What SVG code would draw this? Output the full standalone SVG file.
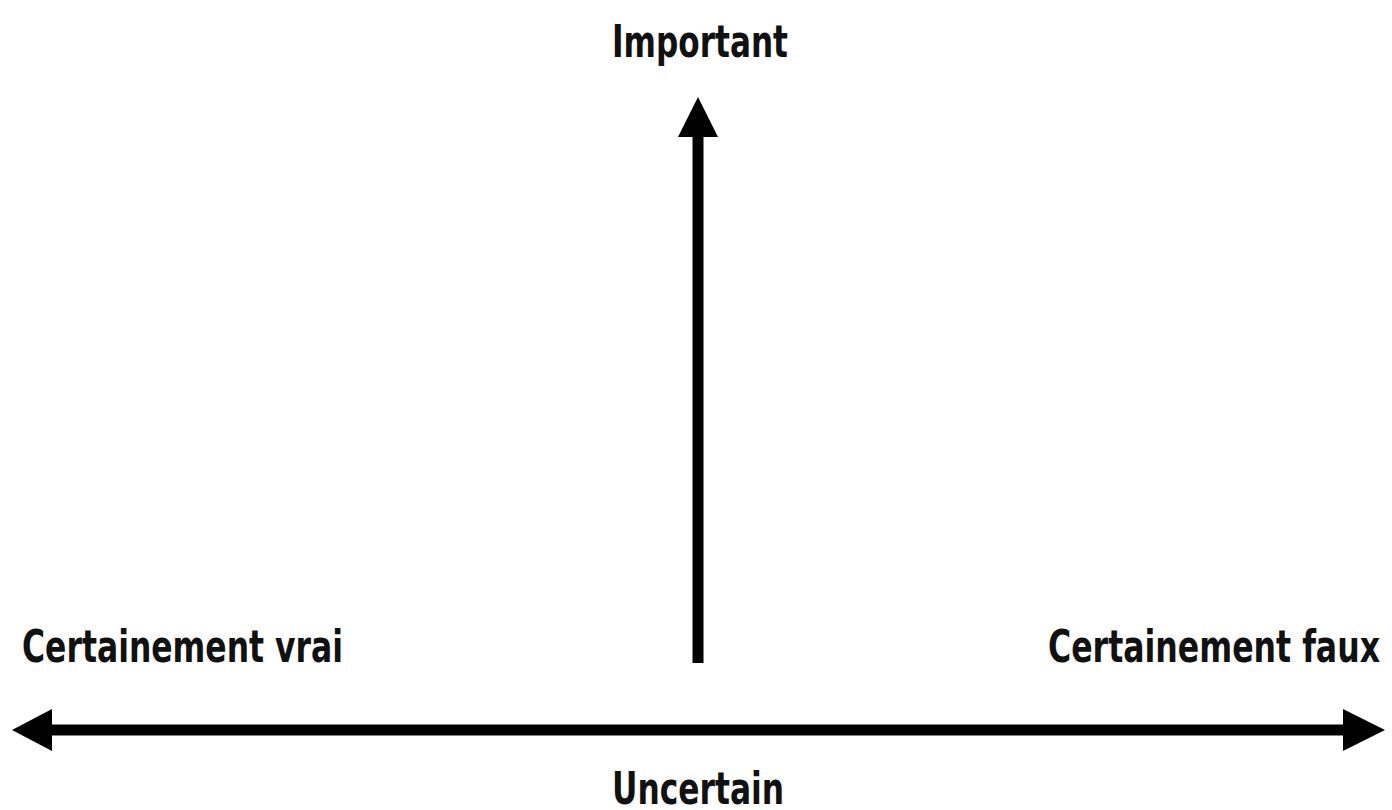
<svg xmlns="http://www.w3.org/2000/svg" width="1392" height="810" viewBox="0 0 1392 810">
<style>
.lbl{font-family:"Liberation Sans Narrow","DejaVu Sans Condensed","Liberation Sans",sans-serif;font-weight:bold;font-size:45px;fill:#111}
.ax{stroke:#000;stroke-width:11;fill:none}
.hd{fill:#000}
</style>
<rect width="1392" height="810" fill="#fff"/>
<g id="connectors">
<line class="ax" x1="698" y1="663" x2="698" y2="132"/>
<polygon class="hd" points="698,97 678,137 718,137"/>
<line class="ax" x1="48" y1="730" x2="1348" y2="730"/>
<polygon class="hd" points="12,730 52,709 52,751"/>
<polygon class="hd" points="1385,730 1343,709 1343,751"/>
</g>
<g id="important"><text class="lbl" x="612" y="57" textLength="176" lengthAdjust="spacingAndGlyphs">Important</text></g>
<g id="vrai"><text class="lbl" x="22" y="662" textLength="321" lengthAdjust="spacingAndGlyphs">Certainement vrai</text></g>
<g id="faux"><text class="lbl" x="1048" y="662" textLength="332" lengthAdjust="spacingAndGlyphs">Certainement faux</text></g>
<g id="uncertain"><text class="lbl" x="612" y="804" textLength="172" lengthAdjust="spacingAndGlyphs">Uncertain</text></g>
</svg>
